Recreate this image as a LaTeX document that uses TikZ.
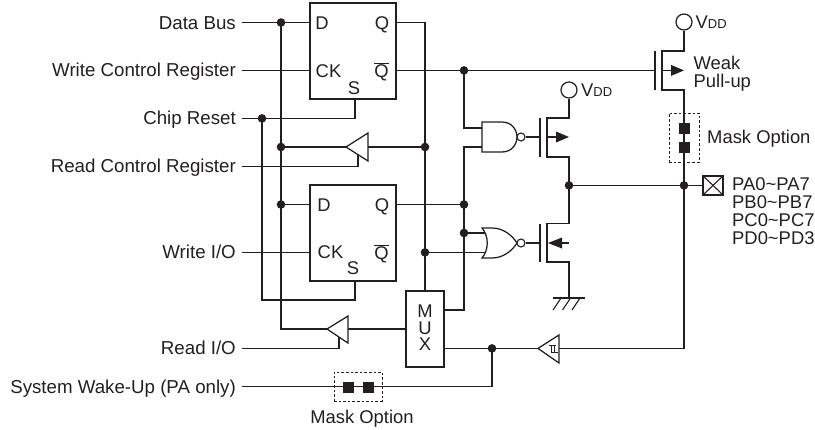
\documentclass[tikz,border=0pt]{standalone}
\usepackage{fontspec}
\setmainfont{Liberation Sans}
\definecolor{ink}{HTML}{231F20}
\tikzset{
  wire/.style={draw=ink,line width=1.35pt},
  gatebox/.style={draw=ink,line width=1.25pt,fill=white},
  dot/.style={circle,fill=ink,draw=none,minimum size=8.6pt,inner sep=0pt},
  pinsq/.style={rectangle,fill=ink,draw=none,minimum size=11pt,inner sep=0pt},
  bubble/.style={circle,draw=ink,line width=1.1pt,fill=white,minimum size=8pt,inner sep=0pt},
  vddring/.style={circle,draw=ink,line width=1.25pt,fill=white,minimum size=16pt,inner sep=0pt},
  maskbox/.style={rectangle,draw=ink,line width=.9pt,dash pattern=on 2.6pt off 2pt,inner sep=0pt},
  lab/.style={inner sep=0pt,font=\fontsize{18.4}{18.4}\selectfont,text=ink},
  rlab/.style={lab,anchor=base east,font=\fontsize{18.7}{18.7}\selectfont},
  llab/.style={lab,anchor=base west},
  clab/.style={lab,anchor=base},
  block/.style={rectangle,draw=ink,line width=1.25pt,inner sep=0pt},
  hatch/.style={draw=ink,line width=1.1pt},
}
\newcommand{\vdd}{V{\fontsize{13}{13}\selectfont DD}}
\newcommand{\qbar}{$\overline{\mbox{Q}}$}
\begin{document}
\begin{tikzpicture}[x=1pt,y=-1pt]
\useasboundingbox (0,0) rectangle (815,429);
% ---- labels on the left
\node[rlab] (lData) at (236,29) {Data Bus};
\node[rlab] (lWcr) at (236,76.5) {Write Control Register};
\node[rlab] (lRst) at (236,124.5) {Chip Reset};
\node[rlab] (lRcr) at (236,172.5) {Read Control Register};
\node[rlab] (lWio) at (236,258.5) {Write I/O};
\node[rlab] (lRio) at (236,354.5) {Read I/O};
\node[rlab] (lWake) at (236,393.5) {System Wake-Up (PA only)};
% ---- free wire ends on the left
\coordinate (eData) at (242,22.5);
\coordinate (eWcr) at (242,70.4);
\coordinate (eRst) at (242,118.4);
\coordinate (eRcr) at (242,166.4);
\coordinate (eWio) at (242,252.4);
\coordinate (eRio) at (242,348.4);
\coordinate (eWake) at (242,386.6);
% ---- flip-flops
\node[block,minimum width=86pt,minimum height=96pt] (ffa) at (353,51) {};
\node[block,minimum width=86pt,minimum height=96pt] (ffb) at (353,233) {};
\node[clab] (ffaD) at (322,29) {D};
\node[clab] (ffaQ) at (382,29) {Q};
\node[clab] (ffaCK) at (328.5,77) {CK};
\node[clab] (ffaQb) at (381.5,77) {\qbar};
\node[clab] (ffaS) at (354,94.5) {S};
\node[clab] (ffbD) at (324,211) {D};
\node[clab] (ffbQ) at (382,211) {Q};
\node[clab] (ffbCK) at (330.5,258.5) {CK};
\node[clab] (ffbQb) at (381.5,259) {\qbar};
\node[clab] (ffbS) at (353,274.5) {S};
% ---- MUX
\node[block,minimum width=38pt,minimum height=76pt] (mux) at (425,329) {};
\node[lab,align=center,anchor=base,font=\fontsize{18.4}{16.5}\selectfont] (muxT) at (425,350.5) {M\\U\\X};
% ---- junctions
\coordinate (jA) at (281,22.5);
\coordinate (jB) at (262,118.4);
\coordinate (jC) at (281,147);
\coordinate (jD) at (425,147);
\coordinate (jE) at (464,70.4);
\coordinate (jF) at (281,204.5);
\coordinate (jG) at (464,204.5);
\coordinate (jH) at (464,233);
\coordinate (jI) at (425,252.4);
\coordinate (jJ) at (492,348.4);
\coordinate (jK) at (569,185.4);
\coordinate (jL) at (684,185.4);
% ---- wiring: inputs and flip-flops
\draw[wire] (eData) -- (ffa.west |- eData);
\draw[wire] (eWcr) -- (ffa.west |- eWcr);
\draw[wire] (eRst) -- (355,118.4) -- (355,99);
\draw[wire] (eWio) -- (ffb.west |- eWio);
\draw[wire] (jB) -- (262,300) -- (355,300) -- (355,281);
\draw[wire] (jA) -- (281,329) -- (327,329);
\draw[wire] (jF) -- (ffb.west |- jF);
\draw[wire] (ffa.east |- eData) -- (425,22.5) -- (mux.north);
\draw[wire] (ffa.east |- jE) -- (jE);
\draw[wire] (jE) -- (655,70.4);
\draw[wire] (jE) -- (464,128) -- (484,128);
\draw[wire] (ffb.east |- jG) -- (jG);
\draw[wire] (mux.east |- 0,310) -- (464,310) -- (464,147) -- (484,147);
\draw[wire] (jH) -- (486,233);
\draw[wire] (jI) -- (486,252.4);
% ---- buffers
\draw[wire] (jC) -- (346,147);
\draw[wire] (368,147) -- (jD);
\draw[gatebox] (346,147) -- (368,133) -- (368,161) -- cycle;
\draw[wire] (eRcr) -- (358,166.4) -- (358,154.6);
\draw[wire] (348,329) -- (mux.west |- 0,329);
\draw[gatebox] (327,329) -- (348,316) -- (348,343) -- cycle;
\draw[wire] (eRio) -- (339,348.4) -- (339,337);
% ---- mux output, schmitt, wake-up
\draw[wire] (mux.east |- jJ) -- (538,348.4);
\draw[wire] (559,348.4) -- (684,348.4) -- (jL);
\draw[gatebox] (538,348.4) -- (559,335) -- (559,363) -- cycle;
\draw[draw=ink,line width=.9pt] (548.5,345.5) -- (556,345.5) (551,345.5) -- (551,352.5) (554,345.5) -- (554,352.5) (551,352.5) -- (558,352.5);
\draw[wire] (eWake) -- (492,386.6) -- (jJ);
% ---- NAND / NOR
\draw[gatebox] (482,122) -- (502,122) .. controls (512,122) and (517,130) .. (517,137) .. controls (517,144) and (512,152) .. (502,152) -- (482,152) -- cycle;
\node[bubble] (bNand) at (521,137) {};
\draw[gatebox] (482,228) -- (492,228) .. controls (503,228) and (512,235) .. (517,243) .. controls (512,251) and (503,258) .. (492,258) -- (482,258) .. controls (489,250) and (489,236) .. (482,228) -- cycle;
\node[bubble] (bNor) at (521,243) {};
% ---- transistors
\node[vddring] (vddP) at (569,90) {};
\node[llab] (vddPt) at (581,96.5) {\vdd};
\draw[wire] (vddP) -- (569,118) -- (547,118) -- (547,157) -- (569,157) -- (jK);
\draw[wire] (jK) -- (569,223.5) -- (547,223.5) -- (547,262) -- (569,262) -- (569,298);
\draw[wire] (540,118) -- (540,157);
\draw[wire] (540,223.5) -- (540,262);
\draw[wire] (bNand) -- (540,137);
\draw[wire] (bNor) -- (540,243);
\draw[wire] (547,137) -- (556,137);
\fill[ink] (569,137) -- (556,131.5) -- (556,142.5) -- cycle;
\draw[wire] (561,243) -- (569,243);
\fill[ink] (548,243) -- (562,237.5) -- (562,248.5) -- cycle;
% ---- ground
\draw[hatch] (553,298) -- (585,298);
\draw[hatch] (561,298) -- (553,310);
\draw[hatch] (570.5,298) -- (562.5,310);
\draw[hatch] (580,298) -- (572,310);
% ---- weak pull-up
\node[vddring] (vddW) at (684,22) {};
\node[llab] (vddWt) at (695.5,28.5) {\vdd};
\draw[wire] (vddW) -- (684,51) -- (662,51) -- (662,90) -- (684,90) -- (jL);
\draw[wire] (655,51) -- (655,90);
\draw[wire] (662,70.4) -- (671,70.4);
\fill[ink] (684,70.4) -- (671,64.9) -- (671,75.9) -- cycle;
\node[llab] (weak) at (693.5,69) {Weak};
\node[llab] (pull) at (693.5,87) {Pull-up};
% ---- mask option (vertical)
\node[maskbox,minimum width=30pt,minimum height=49pt] (maskV) at (684,137.5) {};
\node[pinsq] (sqV1) at (684,128) {};
\node[pinsq] (sqV2) at (684,147) {};
\node[llab] (maskVt) at (707,143.5) {Mask Option};
% ---- output pad
\node[rectangle,draw=ink,line width=1.25pt,minimum width=20pt,minimum height=19pt,inner sep=0pt] (pad) at (713,185.4) {};
\draw[draw=ink,line width=1.1pt] (pad.north west) -- (pad.south east) (pad.north east) -- (pad.south west);
\draw[wire] (jK) -- (pad.west);
\node[llab] (pa) at (732,190) {PA0\textasciitilde PA7};
\node[llab] (pb) at (732,208) {PB0\textasciitilde PB7};
\node[llab] (pc) at (732,226.5) {PC0\textasciitilde PC7};
\node[llab] (pd) at (732,244.5) {PD0\textasciitilde PD3};
% ---- mask option (horizontal)
\node[maskbox,minimum width=48pt,minimum height=29pt] (maskH) at (358,386.5) {};
\node[pinsq] (sqH1) at (348,387) {};
\node[pinsq] (sqH2) at (368,387) {};
\node[clab] (maskHt) at (362,423) {Mask Option};
% ---- dots
\foreach \p in {jA,jB,jC,jD,jE,jF,jG,jH,jI,jJ,jK,jL}
  \node[dot] at (\p) {};
\end{tikzpicture}
\end{document}
